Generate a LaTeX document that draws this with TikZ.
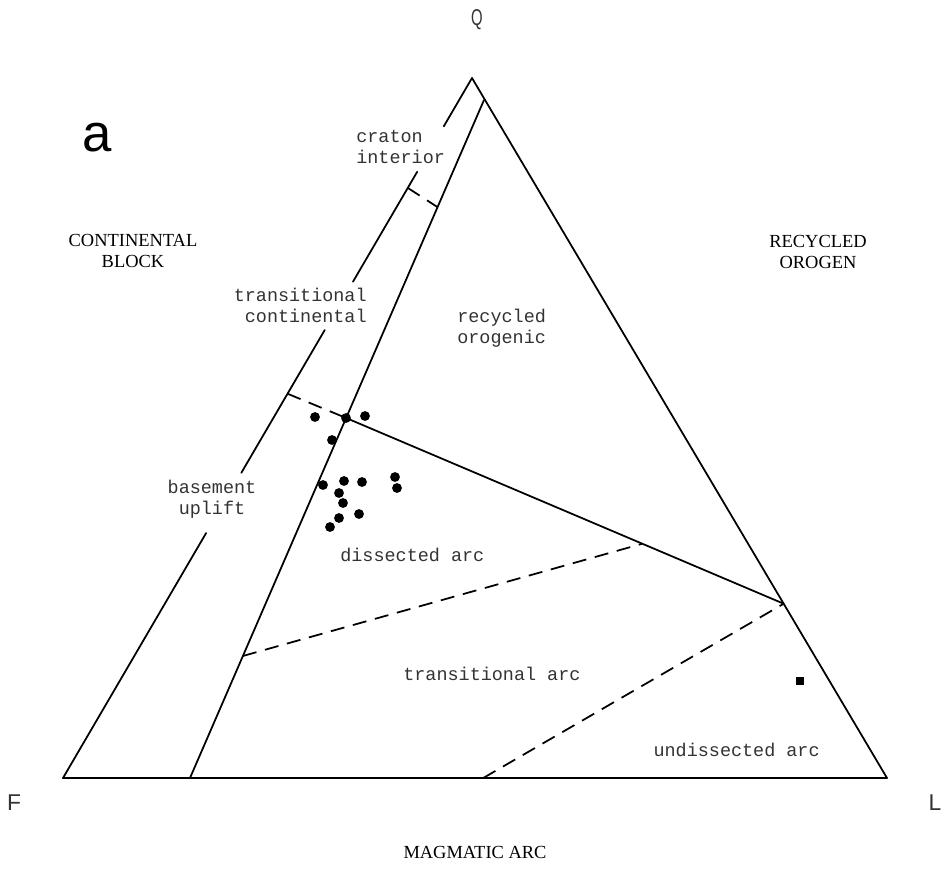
\documentclass[tikz,border=0pt]{standalone}
\usepackage{fontspec}
\setmainfont{Liberation Serif}
\setsansfont{Liberation Sans}
\setmonofont{Liberation Mono}
\usepackage{tikz}
\usetikzlibrary{calc}
\tikzstyle{point}=[circle, fill, inner sep=0pt, minimum size=5.6pt]
\tikzstyle{pointsq}=[rectangle, fill, inner sep=0pt, minimum size=5pt]
\tikzstyle{field}=[font=\ttfamily\fontsize{10.5}{12}\selectfont, text=black!80, inner sep=0pt]
\tikzstyle{pole}=[font=\rmfamily\fontsize{10.5}{12}\selectfont, align=center, inner sep=0pt]
\tikzstyle{apex}=[font=\sffamily\fontsize{13}{15}\selectfont, text=black!80, inner sep=0pt]
\tikzstyle{border}=[line width=1pt, line cap=round]
\tikzstyle{limit}=[line width=1pt, dash pattern=on 8pt off 5pt]

\begin{document}
\begin{tikzpicture}[x=0.02cm, y=-0.02cm]
	   \useasboundingbox (0,0) rectangle (944,870);
		   \begin{scope}
			   \coordinate (q) at (472,78);
			   \coordinate (f) at (63,778);
			   \coordinate (l) at (887,778);
			   \coordinate (qi) at (484,100);
			   \coordinate (fi) at (190,778);

			   \coordinate (g1) at ($(f)!0.931!(q)$);
			   \coordinate (g2) at ($(f)!0.866!(q)$);
			   \coordinate (g3) at ($(f)!0.709!(q)$);
			   \coordinate (g4) at ($(f)!0.640!(q)$);
			   \coordinate (g5) at ($(f)!0.436!(q)$);
			   \coordinate (g6) at ($(f)!0.350!(q)$);

			   \coordinate (c1) at ($(f)!0.843!(q)$);
			   \coordinate (c2) at ($(fi)!0.842!(qi)$);
			   \coordinate (b1) at ($(f)!0.549!(q)$);
			   \coordinate (b2) at ($(fi)!0.531!(qi)$);
			   \coordinate (r1) at ($(l)!0.249!(q)$);
			   \coordinate (d1) at ($(fi)!0.180!(qi)$);
			   \coordinate (d2) at ($(b2)!0.677!(r1)$);
			   \coordinate (u1) at ($(f)!0.510!(l)$);

			   \node (qlab) at (477,20)[apex] {\scalebox{0.65}[1]{Q}};
			   \node (flab) at (14,803)[apex] {F};
			   \node (llab) at (935,803)[apex] {L};
			   \node (alab) at (97,138)[inner sep=0pt, font=\sffamily\fontsize{30}{32}\selectfont] {a};

			   \node (cb) at (133,251)[pole] {CONTINENTAL\\BLOCK};
			   \node (ro) at (818,252)[pole] {RECYCLED\\OROGEN};
			   \node (ma) at (475,852)[pole] {MAGMATIC ARC};

			   \node (ci) at (356,147)[field, anchor=west, align=left] {craton\\interior};
			   \node (tc) at (367,305)[field, anchor=east, align=right] {transitional\\continental};
			   \node (rc) at (457,328)[field, anchor=west, align=left] {recycled\\orogenic};
			   \node (bu) at (212,499)[field, align=center] {basement\\uplift};
			   \node (da) at (340,555)[field, anchor=west] {dissected arc};
			   \node (ta) at (403,674)[field, anchor=west] {transitional arc};
			   \node (ua) at (820,750)[field, anchor=east] {undissected arc};

			   \node (p1) at (315,417)[point] {};
			   \node (p2) at (346,418)[point] {};
			   \node (p3) at (365,416)[point] {};
			   \node (p4) at (332,440)[point] {};
			   \node (p5) at (323,485)[point] {};
			   \node (p6) at (344,481)[point] {};
			   \node (p7) at (362,482)[point] {};
			   \node (p8) at (395,477)[point] {};
			   \node (p9) at (397,488)[point] {};
			   \node (p10) at (339,493)[point] {};
			   \node (p11) at (343,503)[point] {};
			   \node (p12) at (359,514)[point] {};
			   \node (p13) at (339,518)[point] {};
			   \node (p14) at (330,527)[point] {};

			   \node (s1) at (800,681)[pointsq] {};
		   \end{scope}
		   \begin{scope}
			   \path [border] (f) edge (l);
			   \path [border] (l) edge (q);
			   \path [border] (q) edge (g1);
			   \path [border] (g2) edge (g3);
			   \path [border] (g4) edge (g5);
			   \path [border] (g6) edge (f);
			   \path [border] (fi) edge (qi);

			   \path [border] (b2) edge (r1);

			   \path [limit] (c1) edge (c2);
			   \path [limit] (b1) edge (b2);
			   \path [limit] (d1) edge (d2);
			   \path [limit] (u1) edge (r1);
		   \end{scope}
	   \end{tikzpicture}
\end{document}
